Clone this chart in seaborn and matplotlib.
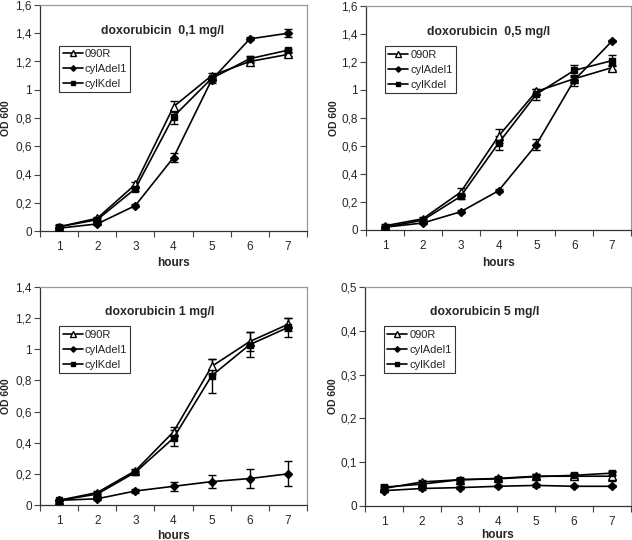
import matplotlib
import matplotlib.pyplot as plt
import numpy as np
import pandas as pd
import seaborn as sns
from matplotlib.ticker import FixedLocator, FuncFormatter

matplotlib.use("Agg")

hours = [1, 2, 3, 4, 5, 6, 7]
strains = ["090R", "cylAdel1", "cylKdel"]

titles = ["doxorubicin  0,1 mg/l", "doxorubicin  0,5 mg/l",
          "doxorubicin 1 mg/l", "doxorubicin 5 mg/l"]
y_max = [1.6, 1.6, 1.4, 0.5]
y_step = [0.2, 0.2, 0.2, 0.1]

# doxorubicin 0,1 mg/l
r090_01 = [0.03, 0.09, 0.33, 0.88, 1.10, 1.20, 1.25]
cyla_01 = [0.02, 0.05, 0.18, 0.52, 1.07, 1.36, 1.40]
cylk_01 = [0.03, 0.08, 0.30, 0.81, 1.08, 1.22, 1.28]
r090_01_err = [0.01, 0.01, 0.02, 0.04, 0.02, 0.01, 0.01]
cyla_01_err = [0.005, 0.01, 0.01, 0.03, 0.02, 0.01, 0.03]
cylk_01_err = [0.01, 0.01, 0.02, 0.05, 0.02, 0.02, 0.01]

# doxorubicin 0,5 mg/l
r090_05 = [0.03, 0.08, 0.27, 0.67, 0.99, 1.08, 1.16]
cyla_05 = [0.02, 0.05, 0.13, 0.28, 0.61, 1.07, 1.35]
cylk_05 = [0.02, 0.07, 0.24, 0.62, 0.97, 1.14, 1.21]
r090_05_err = [0.01, 0.01, 0.03, 0.05, 0.02, 0.01, 0.02]
cyla_05_err = [0.005, 0.01, 0.01, 0.01, 0.04, 0.04, 0.01]
cylk_05_err = [0.01, 0.01, 0.02, 0.05, 0.04, 0.04, 0.04]

# doxorubicin 1 mg/l
r090_1 = [0.03, 0.08, 0.22, 0.47, 0.89, 1.05, 1.16]
cyla_1 = [0.03, 0.04, 0.09, 0.12, 0.15, 0.17, 0.20]
cylk_1 = [0.03, 0.07, 0.21, 0.43, 0.83, 1.03, 1.14]
r090_1_err = [0.005, 0.01, 0.01, 0.03, 0.05, 0.06, 0.04]
cyla_1_err = [0.005, 0.01, 0.01, 0.03, 0.04, 0.06, 0.08]
cylk_1_err = [0.005, 0.01, 0.01, 0.05, 0.11, 0.08, 0.06]

# doxorubicin 5 mg/l
r090_5 = [0.040, 0.055, 0.060, 0.063, 0.068, 0.068, 0.068]
cyla_5 = [0.035, 0.040, 0.042, 0.045, 0.047, 0.045, 0.045]
cylk_5 = [0.043, 0.050, 0.060, 0.062, 0.067, 0.070, 0.075]
r090_5_err = [0.004, 0.004, 0.003, 0.003, 0.004, 0.004, 0.010]
cyla_5_err = [0.004, 0.003, 0.003, 0.002, 0.003, 0.002, 0.002]
cylk_5_err = [0.004, 0.004, 0.004, 0.004, 0.006, 0.005, 0.005]

panels = [
    ([r090_01, cyla_01, cylk_01], [r090_01_err, cyla_01_err, cylk_01_err]),
    ([r090_05, cyla_05, cylk_05], [r090_05_err, cyla_05_err, cylk_05_err]),
    ([r090_1, cyla_1, cylk_1], [r090_1_err, cyla_1_err, cylk_1_err]),
    ([r090_5, cyla_5, cylk_5], [r090_5_err, cyla_5_err, cylk_5_err]),
]

sns.set_theme(style="white")
plt.rcParams["font.family"] = ["Liberation Sans", "DejaVu Sans"]

markers = {"090R": ("^", "white", 5.5), "cylAdel1": ("D", "black", 4.0),
           "cylKdel": ("s", "black", 5.0)}

boxes = [
    (40, 307, 5, 231),
    (366, 631, 6, 230),
    (40, 307, 287, 505),
    (365, 631, 287, 506),
]
title_x = [0.46, 0.464, 0.45, 0.45]
ylabel_x = [-0.128, -0.122, -0.128, -0.12]
xlabel_y = [-0.142, -0.147, -0.14, -0.134]

W, H = 632, 540
fig = plt.figure(figsize=(W / 100, H / 100), dpi=100)


def fmt_comma(v, pos):
    s = f"{v:.1f}".rstrip("0").rstrip(".")
    return s.replace(".", ",")


for i, (vals, errs) in enumerate(panels):
    x0, x1, y0, y1 = boxes[i]
    ax = fig.add_axes([x0 / W, 1 - y1 / H, (x1 - x0) / W, (y1 - y0) / H])
    frames = []
    for name, v in zip(strains, vals):
        frames.append(pd.DataFrame({"hours": hours, "od": v, "strain": name}))
    df = pd.concat(frames, ignore_index=True)

    for name, v, e in zip(strains, vals, errs):
        m, fc, ms = markers[name]
        ax.errorbar(hours, v, yerr=e, fmt="none", ecolor="black",
                    elinewidth=1.0, capsize=3, capthick=1.0, zorder=2)
        sns.lineplot(data=df[df["strain"] == name], x="hours", y="od",
                     ax=ax, color="black", linewidth=1.2, marker=m,
                     markerfacecolor=fc, markeredgecolor="black",
                     markersize=ms, markeredgewidth=1.0, label=name,
                     zorder=3)

    ax.set_xlim(0.5, 7.5)
    ax.set_ylim(0, y_max[i])
    ax.set_xticks(hours)
    ax.xaxis.set_minor_locator(FixedLocator(np.arange(0.5, 7.6, 1.0)))
    ax.set_yticks(np.arange(0, y_max[i] + 1e-9, y_step[i]))
    ax.yaxis.set_major_formatter(FuncFormatter(fmt_comma))
    ax.tick_params(axis="x", which="major", length=0, labelsize=8.5, pad=7)
    ax.tick_params(axis="x", which="minor", length=4, width=0.8,
                   color="#444", direction="out", bottom=True)
    ax.tick_params(axis="y", length=4, width=0.8, color="#444",
                   direction="out", left=True, labelsize=8.5, pad=2)
    for side in ["left", "bottom"]:
        ax.spines[side].set_color("#333")
        ax.spines[side].set_linewidth(0.9)
    for side in ["top", "right"]:
        ax.spines[side].set_color("#999")
        ax.spines[side].set_linewidth(0.9)

    ax.set_xlabel("hours", fontsize=8.5, fontweight="bold")
    ax.set_ylabel("OD 600", fontsize=7.5, fontweight="bold")
    ax.xaxis.set_label_coords(0.5, xlabel_y[i])
    ax.yaxis.set_label_coords(ylabel_x[i], 0.5)
    ax.xaxis.label.set_va("center")
    ax.yaxis.label.set_va("center")
    ax.text(title_x[i], 0.885, titles[i], transform=ax.transAxes,
            ha="center", va="center", fontsize=8.8, fontweight="bold")

    leg = ax.legend(loc="upper left", bbox_to_anchor=(0.072, 0.82),
                    fontsize=8, frameon=True, fancybox=False,
                    handlelength=1.8, handletextpad=0.2, borderpad=0.3,
                    labelspacing=0.45, borderaxespad=0, markerscale=0.7)
    leg.get_frame().set_edgecolor("black")
    leg.get_frame().set_linewidth(0.8)

fig.savefig("out.png", dpi=100)
